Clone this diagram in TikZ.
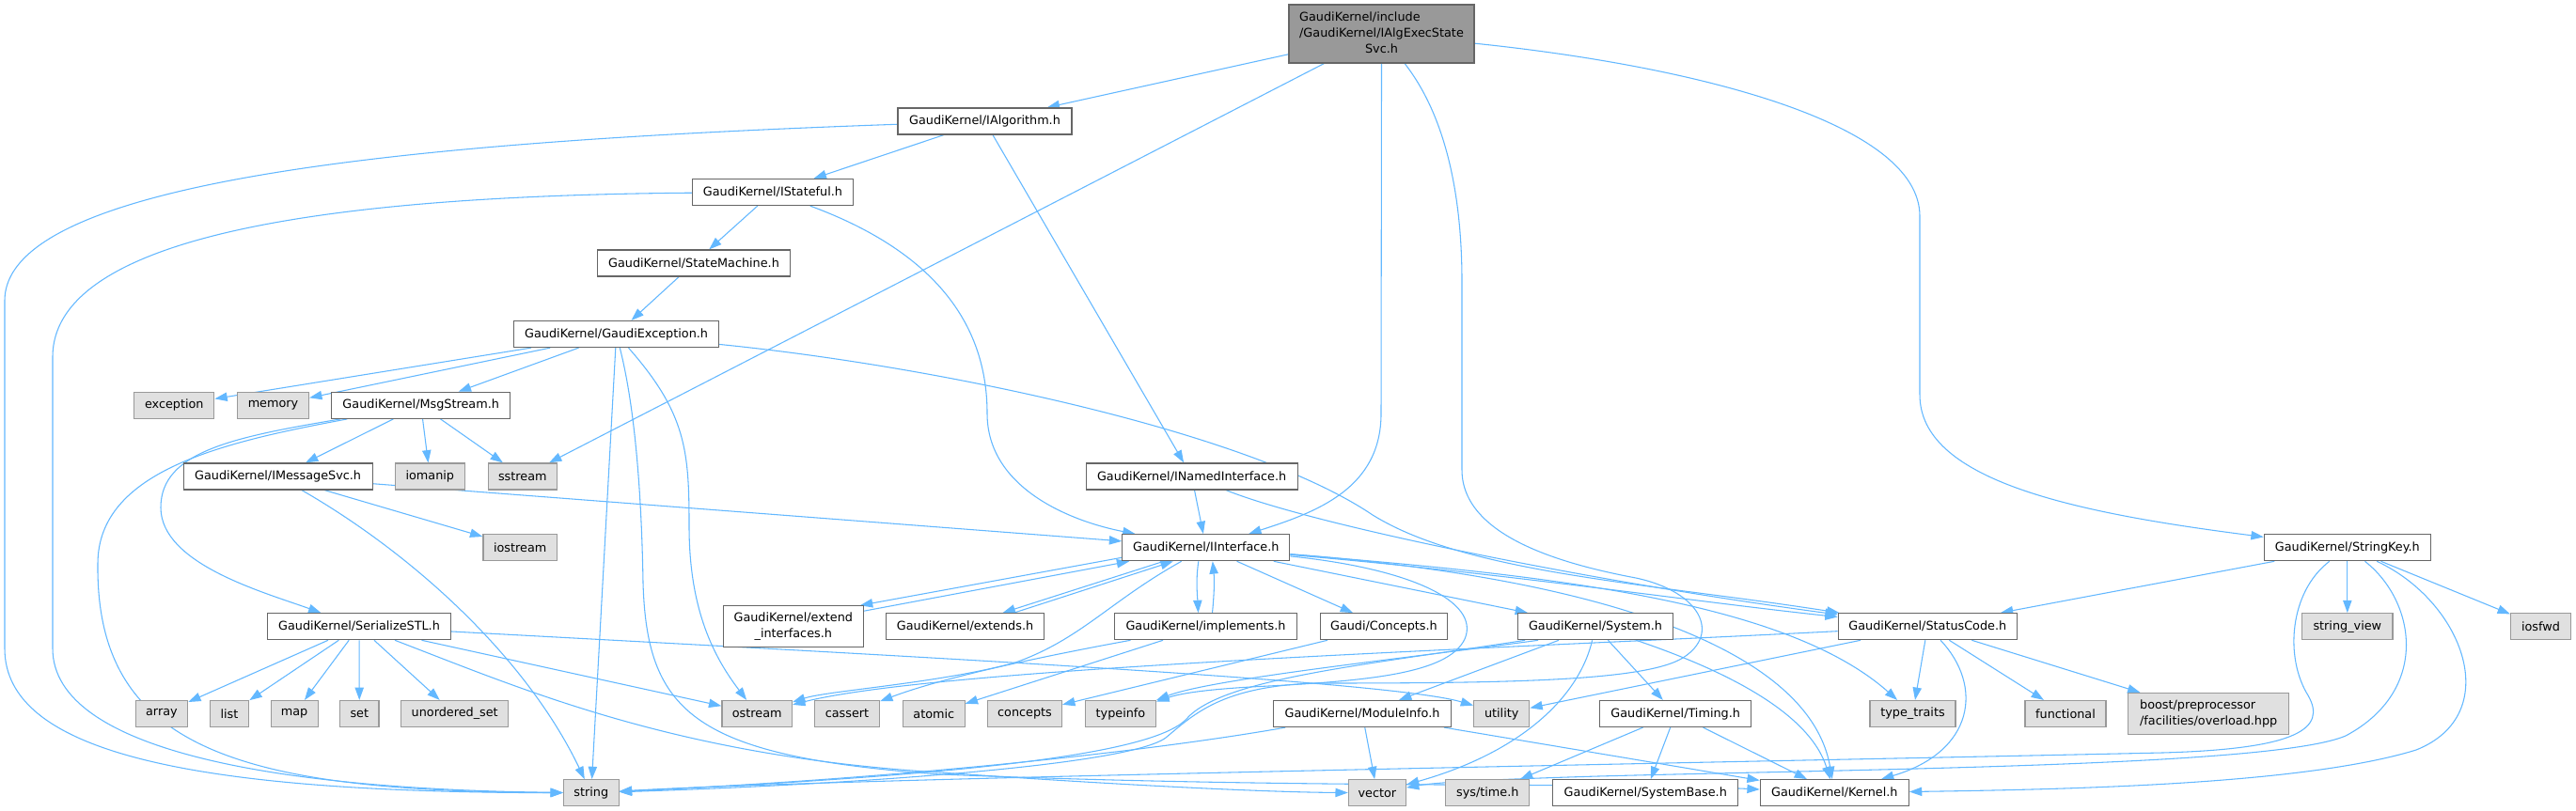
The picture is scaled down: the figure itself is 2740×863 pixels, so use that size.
\documentclass[tikz,border=0pt]{standalone}
\usepackage{fontspec}
\setmainfont{DejaVu Sans}
\usetikzlibrary{arrows.meta,calc}
\definecolor{edgec}{HTML}{63B8FF}
\definecolor{bordc}{HTML}{666666}
\definecolor{extfill}{HTML}{E0E0E0}
\definecolor{extbord}{HTML}{999999}
\definecolor{rootfill}{HTML}{999999}
\pgfdeclarelayer{bg}
\pgfsetlayers{bg,main}
\tikzset{
  hdr/.style={draw=bordc, fill=white, line width=0.9pt, inner sep=0pt, minimum height=21pt, font=\fontsize{9.6}{12.75}\selectfont, text=black},
  stdh/.style={hdr, draw=extbord, fill=extfill},
  bw/.style={minimum width=#1*0.75pt},
  bh/.style={minimum height=#1*0.75pt},
  dep/.style={draw=edgec, line width=0.8pt, -{Triangle[length=10pt,width=7pt]}},
}
\begin{document}
\begin{tikzpicture}[x=0.75pt,y=-0.75pt]
\useasboundingbox (0,0) rectangle (2740,863);
% nodes
\node[hdr,bw=197,bh=62,fill=rootfill] (root) at (1469.5,36) {\begin{tabular}{@{}l@{}}GaudiKernel/include\\/GaudiKernel/IAlgExecState\\\multicolumn{1}{@{}c@{}}{Svc.h}\end{tabular}};
\node[hdr,bw=185] (ialg) at (1047.5,129) {GaudiKernel/IAlgorithm.h};
\node[hdr,bw=171] (istate) at (822,204.5) {GaudiKernel/IStateful.h};
\node[hdr,bw=205] (sm) at (738,280) {GaudiKernel/StateMachine.h};
\node[hdr,bw=218] (gexc) at (655.6,355.5) {GaudiKernel/GaudiException.h};
\node[stdh,bw=85] (exc) at (185.3,431.3) {exception};
\node[stdh,bw=76] (mem) at (290.5,431.3) {memory};
\node[hdr,bw=190] (msg) at (447.7,431.3) {GaudiKernel/MsgStream.h};
\node[hdr,bw=201] (imsg) at (295.6,507) {GaudiKernel/IMessageSvc.h};
\node[stdh,bw=74] (iomanip) at (457.3,507) {iomanip};
\node[stdh,bw=73] (sstream) at (555.8,507) {sstream};
\node[stdh,bw=78.5] (iostream) at (553.2,582.7) {iostream};
\node[hdr,bw=225] (inamed) at (1267.6,507) {GaudiKernel/INamedInterface.h};
\node[hdr,bw=178] (iint) at (1282.8,582.7) {GaudiKernel/IInterface.h};
\node[hdr,bw=177] (strkey) at (2496.8,582.7) {GaudiKernel/StringKey.h};
\node[hdr,bw=149,bh=44,align=center] (extint) at (843.8,666.8) {GaudiKernel/extend\\\_interfaces.h};
\node[hdr,bw=168] (extends) at (1026.5,666.7) {GaudiKernel/extends.h};
\node[hdr,bw=194] (impl) at (1282.5,666.7) {GaudiKernel/implements.h};
\node[hdr,bw=135] (conch) at (1471.9,666.7) {Gaudi/Concepts.h};
\node[hdr,bw=164.5] (system) at (1697,666.7) {GaudiKernel/System.h};
\node[hdr,bw=195] (serial) at (382,666.7) {GaudiKernel/SerializeSTL.h};
\node[hdr,bw=190] (status) at (2050.3,666.7) {GaudiKernel/StatusCode.h};
\node[stdh,bw=96.4] (strview) at (2496.8,666.7) {string\_view};
\node[stdh,bw=64] (iosfwd) at (2702.5,666.7) {iosfwd};
\node[stdh,bw=55.5] (narray) at (171.9,759.5) {array};
\node[stdh,bw=41.5] (nlist) at (244,759.5) {list};
\node[stdh,bw=50] (nmap) at (313.1,759.5) {map};
\node[stdh,bw=41.5] (nset) at (382.3,759.5) {set};
\node[stdh,bw=114] (uset) at (483.7,759.5) {unordered\_set};
\node[stdh,bw=74.6] (ostream) at (805.2,759.5) {ostream};
\node[stdh,bw=69] (cassert) at (901,759.5) {cassert};
\node[stdh,bw=65.6] (atomic) at (993.3,759.5) {atomic};
\node[stdh,bw=79] (concepts) at (1090,759.5) {concepts};
\node[stdh,bw=75] (typeinfo) at (1192,759.5) {typeinfo};
\node[hdr,bw=189] (modinfo) at (1449,759.5) {GaudiKernel/ModuleInfo.h};
\node[stdh,bw=59] (utility) at (1597.2,759.5) {utility};
\node[hdr,bw=161] (timing) at (1782.2,759.5) {GaudiKernel/Timing.h};
\node[stdh,bw=91] (typetraits) at (2034.5,759.5) {type\_traits};
\node[stdh,bw=86] (functional) at (2197,759.5) {functional};
\node[stdh,bw=171,bh=44,align=left] (boost) at (2349.2,759.5) {boost/preprocessor\\/facilities/overload.hpp};
\node[stdh,bw=58.7] (string) at (628.8,843.7) {string};
\node[stdh,bw=61] (vector) at (1464.9,843.7) {vector};
\node[stdh,bw=89] (systime) at (1582.3,843.7) {sys/time.h};
\node[hdr,bw=197] (sysbase) at (1750.3,843.7) {GaudiKernel/SystemBase.h};
\node[hdr,bw=158] (kernel) at (1951.3,843.7) {GaudiKernel/Kernel.h};
% edges
\begin{pgfonlayer}{bg}
\fill[white] (0,0) rectangle (2740,863);
% root
\draw[dep] (root) -- (ialg);
\draw[dep] (root) -- (sstream);
\draw[dep] (root.south) -- (1469,440) .. controls (1469,520) and (1400,545) .. (iint);
\draw[dep] (root) .. controls (1535,120) and (1555,200) .. (1555,300) -- (1555,500) .. controls (1555,570) and (1660,600) .. (1740,615) .. controls (1810,630) and (1830,675) .. (1790,700) .. controls (1750,725) and (1600,727) .. (1400,727) .. controls (1300,730) and (1270,760) .. (1240,785) .. controls (1200,815) and (900,835) .. (string);
\draw[dep] (root) .. controls (1800,70) and (2042,130) .. (2042,230) -- (2042,420) .. controls (2042,510) and (2200,545) .. (strkey);
% IAlgorithm
\draw[dep] (ialg) -- (istate);
\draw[dep] (ialg) -- (inamed);
\draw[dep] (ialg) .. controls (450,150) and (5,190) .. (5,320) -- (5,690) .. controls (5,800) and (200,843) .. (string);
% IStateful
\draw[dep] (istate) .. controls (400,208) and (56,240) .. (56,380) -- (56,690) .. controls (56,800) and (300,840) .. (string);
\draw[dep] (istate) -- (sm);
\draw[dep] (istate) .. controls (1000,270) and (1050,350) .. (1050,440) .. controls (1050,520) and (1140,555) .. (iint);
% StateMachine / GaudiException
\draw[dep] (sm) -- (gexc);
\draw[dep] (gexc) -- (exc);
\draw[dep] (gexc) -- (mem);
\draw[dep] (gexc) -- (msg);
\draw[dep] (gexc) -- (string);
\draw[dep] (gexc) .. controls (730,440) and (733,480) .. (733,560) .. controls (733,650) and (760,700) .. (ostream);
\draw[dep] (gexc) .. controls (672,420) and (682,500) .. (684,620) .. controls (688,760) and (740,805) .. (1000,824) .. controls (1400,840) and (1700,832) .. (kernel);
\draw[dep] (gexc) .. controls (1000,390) and (1330,460) .. (1460,548) .. controls (1560,610) and (1750,620) .. (status);
% MsgStream
\draw[dep] (msg) -- (imsg);
\draw[dep] (msg) -- (iomanip);
\draw[dep] (msg) -- (sstream);
\draw[dep] (msg) .. controls (250,465) and (171,480) .. (171,540) .. controls (171,600) and (280,630) .. (serial);
\draw[dep] (msg) .. controls (240,470) and (104,500) .. (104,600) .. controls (102,795) and (250,842) .. (string);
% IMessageSvc
\draw[dep] (imsg) -- (iint);
\draw[dep] (imsg) -- (iostream);
\draw[dep] (imsg) .. controls (440,590) and (560,700) .. (string);
% INamedInterface
\draw[dep] (inamed) -- (iint);
\draw[dep] (inamed) .. controls (1400,560) and (1700,620) .. (status);
% SerializeSTL
\draw[dep] (serial) -- (narray);
\draw[dep] (serial) -- (nlist);
\draw[dep] (serial) -- (nmap);
\draw[dep] (serial) -- (nset);
\draw[dep] (serial) -- (uset);
\draw[dep] (serial) -- (ostream);
\draw[dep] (serial) .. controls (560,735) and (720,805) .. (1000,822) .. controls (1200,836) and (1350,843) .. (vector);
\draw[dep] (serial) .. controls (1000,700) and (1480,725) .. (utility);
% IInterface
\draw[dep] ($(iint.south west)+(0,-4)$) -- ($(extint.north east)+(-4,0)$);
\draw[dep] ($(extint.north east)+(0,6)$) -- ($(iint.south west)+(8,0)$);
\draw[dep] ($(iint.south)+(-45,0)$) -- ($(extends.north)+(40,0)$);
\draw[dep] ($(extends.north)+(52,0)$) -- ($(iint.south)+(-35,0)$);
\draw[dep] ($(iint.south)+(-8,0)$) .. controls +(-3,20) and +(-1,-20) .. ($(impl.north)+(-8,0)$);
\draw[dep] ($(impl.north)+(7,0)$) .. controls +(2,-20) and +(2,20) .. ($(iint.south)+(7,0)$);
\draw[dep] (iint) -- (conch);
\draw[dep] (iint) -- (system);
\draw[dep] (iint) .. controls (1600,610) and (1800,640) .. (status);
\draw[dep] (iint) .. controls (1650,612) and (1900,640) .. (typetraits);
\draw[dep] (iint) .. controls (1700,615) and (1925,690) .. (kernel);
\draw[dep] (iint) .. controls (1500,605) and (1575,640) .. (1558,680) .. controls (1540,718) and (1450,725) .. (1330,731) .. controls (1280,734) and (1255,738) .. (typeinfo);
\draw[dep] (iint) .. controls (1180,640) and (1150,680) .. (1080,705) .. controls (1000,727) and (880,735) .. (ostream);
% implements
\draw[dep] (impl) -- (atomic);
\draw[dep] (impl) .. controls (1100,700) and (1000,722) .. (cassert);
% Concepts
\draw[dep] (conch) -- (concepts);
% System
\draw[dep] (system) -- (modinfo);
\draw[dep] (system) -- (timing);
\draw[dep] (system) .. controls (1680,740) and (1620,800) .. (vector);
\draw[dep] (system) .. controls (1840,715) and (1925,760) .. (kernel);
\draw[dep] ($(system.south west)+(22,0)$) .. controls (1500,700) and (1290,722) .. (typeinfo);
\draw[dep] ($(system.south west)+(8,0)$) .. controls (1450,708) and (1300,722) .. (1262,765) .. controls (1225,805) and (1000,826) .. (string);
% ModuleInfo
\draw[dep] (modinfo) .. controls (1250,795) and (1000,826) .. (string);
\draw[dep] (modinfo) -- (vector);
\draw[dep] (modinfo) -- (kernel);
% Timing
\draw[dep] (timing) -- (systime);
\draw[dep] (timing) -- (sysbase);
\draw[dep] (timing) -- (kernel);
% StatusCode
\draw[dep] (status) -- (typetraits);
\draw[dep] (status) -- (functional);
\draw[dep] (status) -- (boost);
\draw[dep] (status) .. controls (2110,730) and (2100,800) .. (kernel);
\draw[dep] (status) -- (utility);
\draw[dep] (status) .. controls (1600,690) and (1000,710) .. (ostream);
% StringKey
\draw[dep] (strkey) -- (status);
\draw[dep] (strkey) -- (strview);
\draw[dep] (strkey) -- (iosfwd);
\draw[dep] (strkey) .. controls (2620,640) and (2665,760) .. (2570,798) .. controls (2450,835) and (2200,840) .. (kernel);
\draw[dep] (strkey) .. controls (2435,630) and (2430,700) .. (2455,740) .. controls (2475,775) and (2445,797) .. (2300,801) .. controls (1800,812) and (900,828) .. (string);
\draw[dep] (strkey) .. controls (2570,640) and (2585,735) .. (2495,783) .. controls (2420,815) and (2000,818) .. (1700,826) .. controls (1600,829) and (1530,832) .. (vector);
\end{pgfonlayer}
\end{tikzpicture}
\end{document}
